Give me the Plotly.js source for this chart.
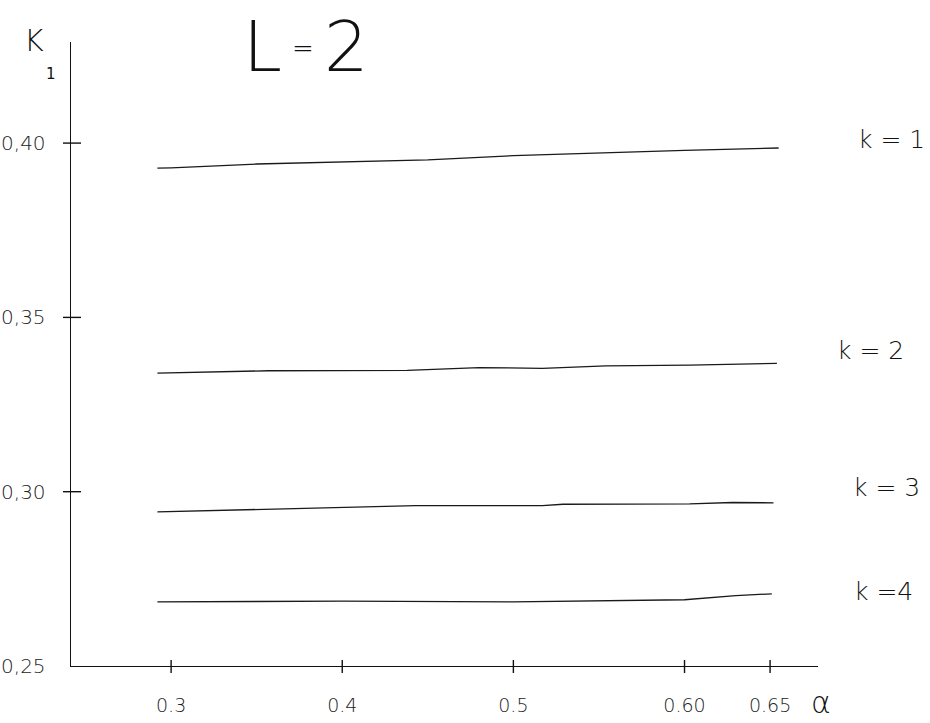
<!DOCTYPE html>
<html>
<head>
<meta charset="utf-8">
<script src="https://cdn.plot.ly/plotly-3.0.1.min.js"></script>
<style>html,body{margin:0;padding:0;background:#fff;}#chart{width:930px;height:723px;}</style>
</head>
<body>
<div id="chart"></div>
<script>
// ---- data ----
const alphaK1 = [0.292, 0.30, 0.35, 0.40, 0.45, 0.50, 0.55, 0.60, 0.655];
const valuesK1 = [0.3928, 0.3929, 0.3940, 0.3947, 0.3952, 0.3964, 0.3972, 0.3979, 0.3986];
const alphaK2 = [0.292, 0.357, 0.438, 0.480, 0.517, 0.554, 0.603, 0.654];
const valuesK2 = [0.3340, 0.3347, 0.3348, 0.3356, 0.3354, 0.3361, 0.3363, 0.3368];
const alphaK3 = [0.292, 0.357, 0.393, 0.443, 0.517, 0.529, 0.603, 0.628, 0.652];
const valuesK3 = [0.2942, 0.2949, 0.2954, 0.2960, 0.2960, 0.2964, 0.2965, 0.2969, 0.2968];
const alphaK4 = [0.292, 0.40, 0.50, 0.55, 0.60, 0.63, 0.651];
const valuesK4 = [0.2684, 0.2686, 0.2684, 0.2686, 0.2690, 0.2702, 0.2707];
const seriesNames = ["k = 1", "k = 2", "k = 3", "k =4"];
const xTickVals = [0.3, 0.4, 0.5, 0.6, 0.65];
const xTickText = ["0.3", "0.4", "0.5", "0.60", "0.65"];
const yTickVals = [0.25, 0.30, 0.35, 0.40];
const yTickText = ["0,25", "0,30", "0,35", "0,40"];

// ---- layout geometry ----
const W = 930, H = 723;
const M = {l: 71, r: 112, t: 42, b: 57};
const PW = W - M.l - M.r, PH = H - M.t - M.b;
const px = x => (x - M.l) / PW;
const py = y => (H - M.b - y) / PH;

const lineStyle = {color: '#1a1a1a', width: 1.3};
const alphas = [alphaK1, alphaK2, alphaK3, alphaK4];
const vals = [valuesK1, valuesK2, valuesK3, valuesK4];
const traces = alphas.map((a, i) => ({
  x: a, y: vals[i], type: 'scatter', mode: 'lines',
  line: lineStyle, name: seriesNames[i], hoverinfo: 'skip'
}));

const FONT = '"DejaVu Sans", "Noto Sans", sans-serif';
const shapes = [];
xTickVals.forEach(v => shapes.push({type: 'line', xref: 'x', yref: 'paper', x0: v, x1: v,
  y0: -7 / PH, y1: 6 / PH, line: {color: '#111', width: 1.4}}));
yTickVals.forEach(v => { if (v > 0.25) shapes.push({type: 'line', xref: 'paper', yref: 'y', y0: v, y1: v,
  x0: -8 / PW, x1: 10 / PW, line: {color: '#111', width: 1.4}}); });

const ann = (text, x, y, size, weight) => ({
  text, xref: 'paper', yref: 'paper', x: px(x), y: py(y), xanchor: 'center', yanchor: 'middle',
  showarrow: false, borderpad: 0, font: {family: FONT, size, color: '#111', weight: weight || 400}
});

const labelY = [139, 350, 487, 591];
const labelX = [892, 870, 886, 883];
const annotations = [
  ann('L', 262, 47, 70, 200),
  ann('=', 303, 48, 26, 200),
  ann('2', 346, 47, 70, 200),
  ann('K', 34, 40, 30, 300),
  ann('1', 51, 74, 15, 400),
  ann('α', 821, 702, 30, 300),
].concat(seriesNames.map((s, i) => ann(s, labelX[i], labelY[i], 25, 300)));

const layout = {
  width: W, height: H,
  margin: M,
  paper_bgcolor: '#fff', plot_bgcolor: '#fff',
  showlegend: false,
  xaxis: {
    range: [0.2415, 0.678], showgrid: false, zeroline: false,
    showline: true, linecolor: '#111', linewidth: 1.4,
    tickvals: xTickVals, ticktext: xTickText, ticks: '',
    ticklabelstandoff: 22,
    tickfont: {family: FONT, size: 19, color: '#222', weight: 300}
  },
  yaxis: {
    range: [0.25, 0.429], showgrid: false, zeroline: false,
    showline: true, linecolor: '#111', linewidth: 1.4,
    tickvals: yTickVals, ticktext: yTickText, ticks: '',
    ticklabelstandoff: 20,
    tickfont: {family: FONT, size: 20, color: '#222', weight: 300}
  },
  shapes, annotations
};

Plotly.newPlot('chart', traces, layout, {displayModeBar: false, staticPlot: true});
</script>
</body>
</html>
